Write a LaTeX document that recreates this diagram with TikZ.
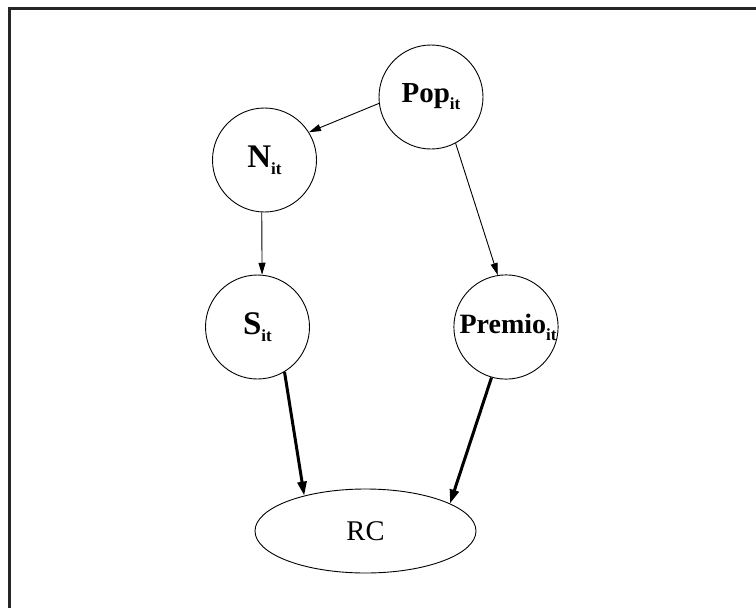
\documentclass[tikz,border=0pt]{standalone}
\usepackage{fontspec}
\setmainfont{Liberation Serif}
\usetikzlibrary{arrows.meta,shapes.geometric}
\newcommand\subit[1]{\raisebox{-7pt}{\fontsize{17}{17}\selectfont #1}}
\tikzset{
  var/.style={circle,draw,line width=0.9pt,minimum size=104pt,inner sep=0pt,font=\bfseries\fontsize{29}{29}\selectfont},
  thin arrow/.style={line width=0.9pt,-{Triangle[length=12pt,width=7pt]}},
  thick arrow/.style={line width=3pt,-{Triangle[length=14pt,width=9pt]}},
}
\begin{document}
\begin{tikzpicture}[x=1pt,y=-1pt]
\useasboundingbox (0,0) rectangle (756,608);
\fill[white] (0,0) rectangle (756,608);
% frame (top and left edges visible)
\draw[line width=3.2pt,color=black!85,line cap=rect] (9.6,640) -- (9.6,8.6) -- (780,8.6);
\node[var] (pop) at (431,97) {Pop\subit{it}};
\node[var] (n) at (264.5,160) {\fontsize{33}{33}\selectfont N\subit{it}};
\node[var] (s) at (257.5,327) {\fontsize{33}{33}\selectfont S\subit{it}};
\node[var,minimum size=103pt] (premio) at (506,327) {\hspace*{4pt}\fontsize{28}{28}\selectfont Premio\subit{it}};
\node[ellipse,draw,line width=0.9pt,minimum width=221pt,minimum height=84pt,inner sep=0pt,font=\fontsize{28.5}{28.5}\selectfont] (rc) at (365.5,531) {RC};
\draw[thin arrow] (pop.187) -- (n.32);
\draw[thin arrow] (n.267) -- (s.85);
\draw[thin arrow] (pop.298) -- (premio.99);
\draw[thick arrow] (s.301) -- (rc.150);
\draw[thick arrow] (premio.254) -- (rc.18);
\end{tikzpicture}
\end{document}
